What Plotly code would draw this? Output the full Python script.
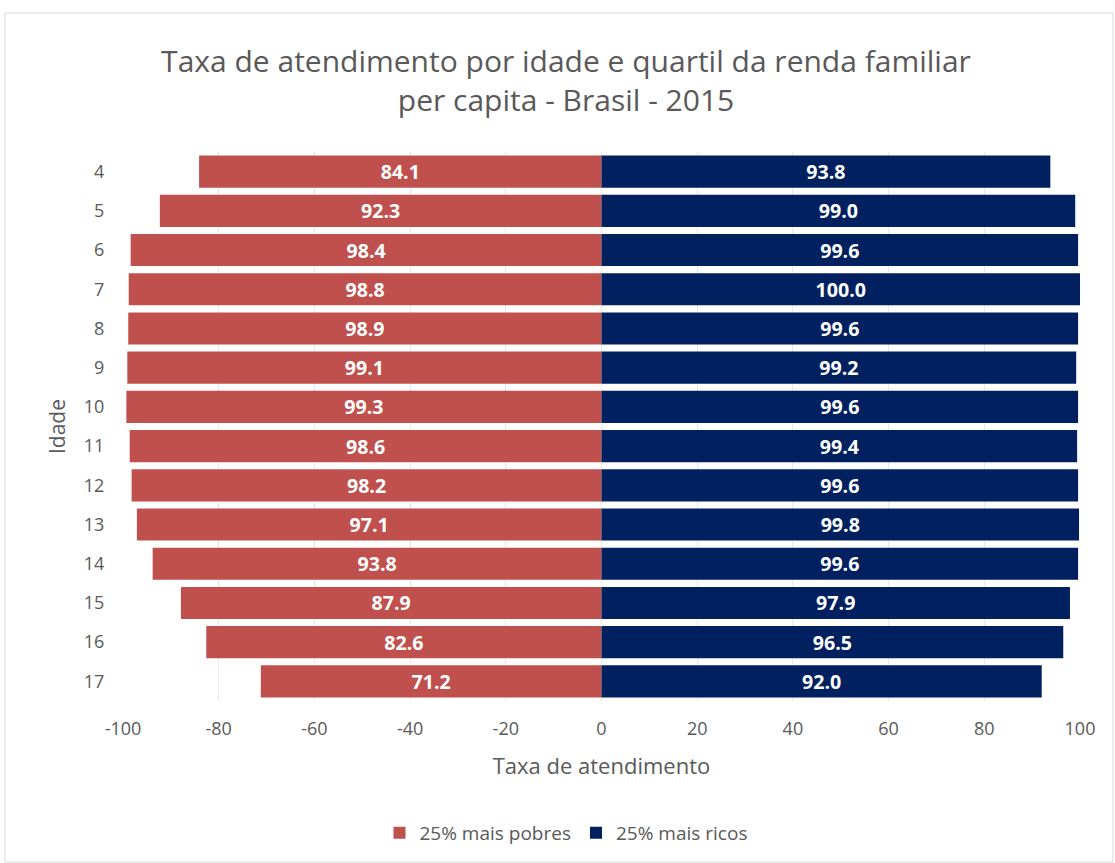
import plotly.graph_objects as go

# Ages and attendance rates (%) by household income quartile, Brazil 2015
idades = ["4", "5", "6", "7", "8", "9", "10", "11", "12", "13", "14", "15", "16", "17"]
mais_pobres = [84.1, 92.3, 98.4, 98.8, 98.9, 99.1, 99.3, 98.6, 98.2, 97.1, 93.8, 87.9, 82.6, 71.2]
mais_ricos = [93.8, 99.0, 99.6, 100.0, 99.6, 99.2, 99.6, 99.4, 99.6, 99.8, 99.6, 97.9, 96.5, 92.0]
x_ticks = [-100, -80, -60, -40, -20, 0, 20, 40, 60, 80, 100]

RED = "#C0504D"
NAVY = "#002060"
GREY_TXT = "#595959"
FONT = "Open Sans"

fig = go.Figure()

# poorer quartile drawn to the left (negative side), labelled with the positive rate
fig.add_trace(go.Bar(
    y=idades,
    x=[-v for v in mais_pobres],
    orientation="h",
    name="25% mais pobres",
    marker=dict(color=RED, line=dict(width=0)),
    text=[f"{v:.1f}" for v in mais_pobres],
    textposition="inside",
    insidetextanchor="middle",
    textfont=dict(color="white", size=21, family=FONT, weight="bold"),
    hovertemplate="Idade %{y}: %{text}<extra>25% mais pobres</extra>",
))

fig.add_trace(go.Bar(
    y=idades,
    x=mais_ricos,
    orientation="h",
    name="25% mais ricos",
    marker=dict(color=NAVY, line=dict(width=0)),
    text=[f"{v:.1f}" for v in mais_ricos],
    textposition="inside",
    insidetextanchor="middle",
    textfont=dict(color="white", size=21, family=FONT, weight="bold"),
    hovertemplate="Idade %{y}: %{text}<extra>25% mais ricos</extra>",
))

# plot area spans 123..1080 px horizontally and 152..701 px vertically
L, R, T, B = 123, 35, 152, 162
W, H = 1115, 863
pw = W - L - R
ph = H - T - B


def px_x(p):
    return (p - L) / pw


def px_y(p):
    return (H - B - p) / ph


fig.update_layout(
    width=W,
    height=H,
    margin=dict(l=L, r=R, t=T, b=B),
    paper_bgcolor="white",
    plot_bgcolor="white",
    barmode="relative",
    bargap=0.18,
    uniformtext=dict(mode="show", minsize=10),
    font=dict(family=FONT, color=GREY_TXT),
    title=dict(
        text="Taxa de atendimento por idade e quartil da renda familiar<br>per capita - Brasil - 2015",
        x=566 / W,
        xanchor="center",
        xref="container",
        y=1 - 72 / H,
        yanchor="middle",
        yref="container",
        font=dict(size=30, color=GREY_TXT, family=FONT),
    ),
    xaxis=dict(
        range=[-100, 100],
        tickvals=x_ticks,
        ticktext=[str(v) for v in x_ticks],
        showgrid=True,
        gridcolor="#E8E8E8",
        gridwidth=1,
        zeroline=False,
        showline=False,
        ticks="outside",
        ticklen=11,
        tickcolor="rgba(0,0,0,0)",
        tickfont=dict(size=18, color=GREY_TXT),
        title=dict(text="Taxa de atendimento", font=dict(size=22, color=GREY_TXT), standoff=20),
        fixedrange=True,
    ),
    yaxis=dict(
        categoryorder="array",
        categoryarray=idades,
        autorange="reversed",
        showgrid=False,
        zeroline=False,
        showline=False,
        ticks="outside",
        ticklen=14,
        tickcolor="rgba(0,0,0,0)",
        tickfont=dict(size=18, color=GREY_TXT),
        title=dict(text="Idade", font=dict(size=21, color=GREY_TXT), standoff=12),
        fixedrange=True,
    ),
    legend=dict(
        orientation="h",
        x=566 / W,
        xanchor="center",
        xref="container",
        y=1 - 833 / H,
        yanchor="middle",
        yref="container",
        font=dict(size=19, color=GREY_TXT),
        itemsizing="constant",
        itemwidth=30,
        traceorder="normal",
    ),
    shapes=[
        # light frame around the chart
        dict(
            type="rect",
            xref="paper",
            yref="paper",
            x0=px_x(5),
            x1=px_x(1113),
            y0=px_y(862),
            y1=px_y(13),
            line=dict(color="#D9D9D9", width=1),
            fillcolor="rgba(0,0,0,0)",
            layer="below",
        ),
    ],
)

fig.write_html("out.html")
